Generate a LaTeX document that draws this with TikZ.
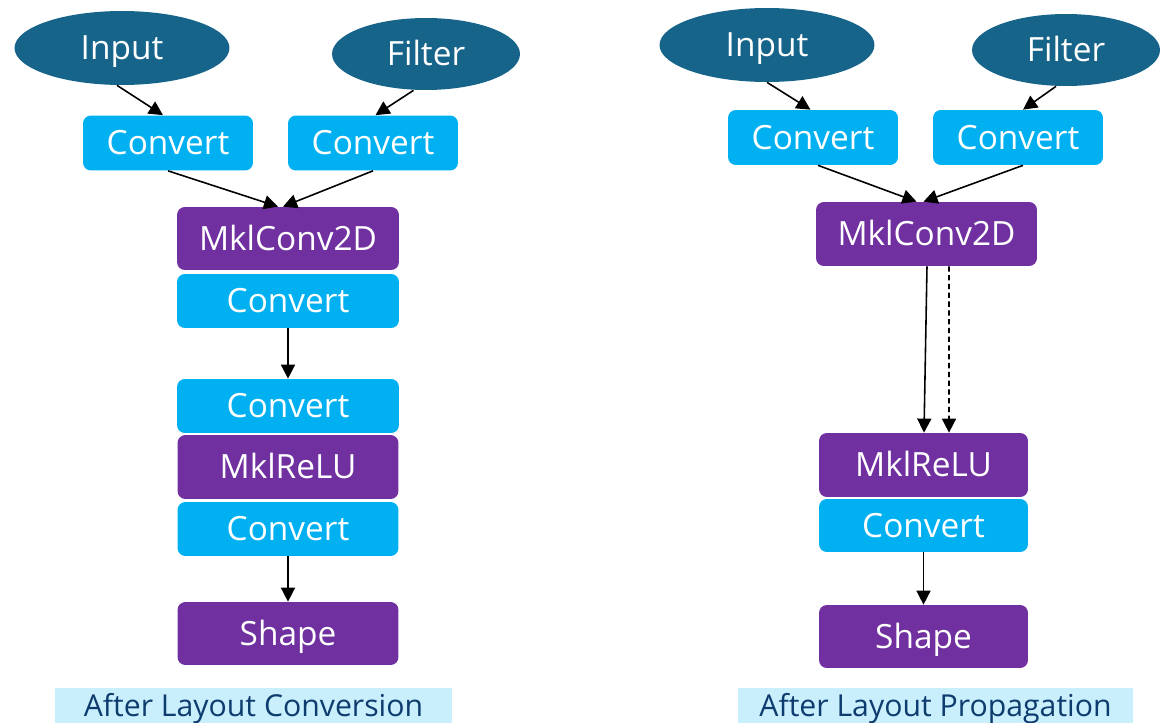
\documentclass[tikz,border=0pt]{standalone}
\usepackage{fontspec}
\setmainfont{Open Sans}
\usetikzlibrary{arrows.meta,shapes.geometric}
\definecolor{tfblue}{RGB}{23,100,138}
\definecolor{cvtcyan}{RGB}{0,176,240}
\definecolor{mklpurple}{RGB}{112,48,160}
\definecolor{capbg}{RGB}{201,238,252}
\definecolor{captext}{RGB}{14,60,110}

\begin{document}
\begin{tikzpicture}[x=0.02cm,y=-0.02cm,
  src/.style={ellipse,fill=tfblue,text=white,inner sep=0,text height=13.6pt,text depth=0pt,font=\fontsize{19}{22}\selectfont},
  op/.style={rectangle,rounded corners=4.5pt,text=white,inner sep=0,text height=13.6pt,text depth=0pt,font=\fontsize{19}{22}\selectfont},
  cvt/.style={op,fill=cvtcyan},
  mkl/.style={op,fill=mklpurple},
  caption/.style={fill=capbg,text=captext,inner sep=0,text height=12.3pt,text depth=0pt,minimum width=7.94cm,minimum height=0.7cm,font=\fontsize{17.2}{20}\selectfont},
  flow/.style={line width=0.9pt,-{Triangle[length=8pt,width=8pt]}}]
\useasboundingbox (0,0) rectangle (1160,723);

% after layout conversion
\node[src,minimum width=4.3cm,minimum height=1.48cm] (inL) at (122,48) {Input};
\node[src,minimum width=3.76cm,minimum height=1.44cm] (fiL) at (426,54) {Filter};
\node[cvt,minimum width=3.4cm,minimum height=1.1cm] (caL) at (168,143) {Convert};
\node[cvt,minimum width=3.4cm,minimum height=1.1cm] (cbL) at (373,143) {Convert};
\node[mkl,minimum width=4.44cm,minimum height=1.26cm] (convL) at (288,238.5) {MklConv2D};
\node[cvt,minimum width=4.44cm,minimum height=1.08cm] (c1L) at (288,301) {Convert};
\node[cvt,minimum width=4.44cm,minimum height=1.08cm] (c2L) at (288,406) {Convert};
\node[mkl,minimum width=4.42cm,minimum height=1.28cm] (reluL) at (288,467) {MklReLU};
\node[cvt,minimum width=4.42cm,minimum height=1.08cm] (c3L) at (288,529) {Convert};
\node[mkl,minimum width=4.42cm,minimum height=1.26cm] (shL) at (288,633.5) {Shape};
\node[caption] (capL) at (253.5,705.5) {After Layout Conversion};

\draw[flow] ([xshift=-0.1cm]inL.south) -- ([xshift=-0.1cm]caL.north);
\draw[flow] ([xshift=-0.25cm]fiL.south) -- ([xshift=0.05cm]cbL.north);
\draw[flow] (caL.south) -- ([xshift=-0.2cm]convL.north);
\draw[flow] (cbL.south) -- ([xshift=-0.1cm]convL.north);
\draw[flow] (c1L) -- (c2L);
\draw[flow] (c3L) -- (shL);

% after layout propagation
\node[src,minimum width=4.3cm,minimum height=1.48cm] (inR) at (767,45) {Input};
\node[src,minimum width=3.76cm,minimum height=1.44cm] (fiR) at (1066,50) {Filter};
\node[cvt,minimum width=3.4cm,minimum height=1.1cm] (caR) at (813,137.5) {Convert};
\node[cvt,minimum width=3.4cm,minimum height=1.1cm] (cbR) at (1018,137.5) {Convert};
\node[mkl,minimum width=4.42cm,minimum height=1.28cm] (convR) at (926.5,234) {MklConv2D};
\node[mkl,minimum width=4.18cm,minimum height=1.28cm] (reluR) at (923.5,465) {MklReLU};
\node[cvt,minimum width=4.18cm,minimum height=1.06cm] (c1R) at (923.5,525.5) {Convert};
\node[mkl,minimum width=4.18cm,minimum height=1.26cm] (shR) at (923.5,636.5) {Shape};
\node[caption,minimum width=7.9cm] (capR) at (935.5,705.5) {After Layout Propagation};

\draw[flow] (inR.south) -- ([xshift=-0.05cm]caR.north);
\draw[flow] ([xshift=-0.2cm]fiR.south) -- ([xshift=0.1cm]cbR.north);
\draw[flow] ([xshift=0.1cm]caR.south) -- ([xshift=-0.2cm]convR.north);
\draw[flow] ([xshift=0.1cm]cbR.south) -- ([xshift=-0.06cm]convR.north);
\draw[flow] ([xshift=0.01cm]convR.south) -- ([xshift=0.01cm]reluR.north);
\draw[flow,densely dashed] ([xshift=0.45cm]convR.south) -- ([xshift=0.51cm]reluR.north);
\draw[flow] (c1R) -- (shR);
\end{tikzpicture}
\end{document}
